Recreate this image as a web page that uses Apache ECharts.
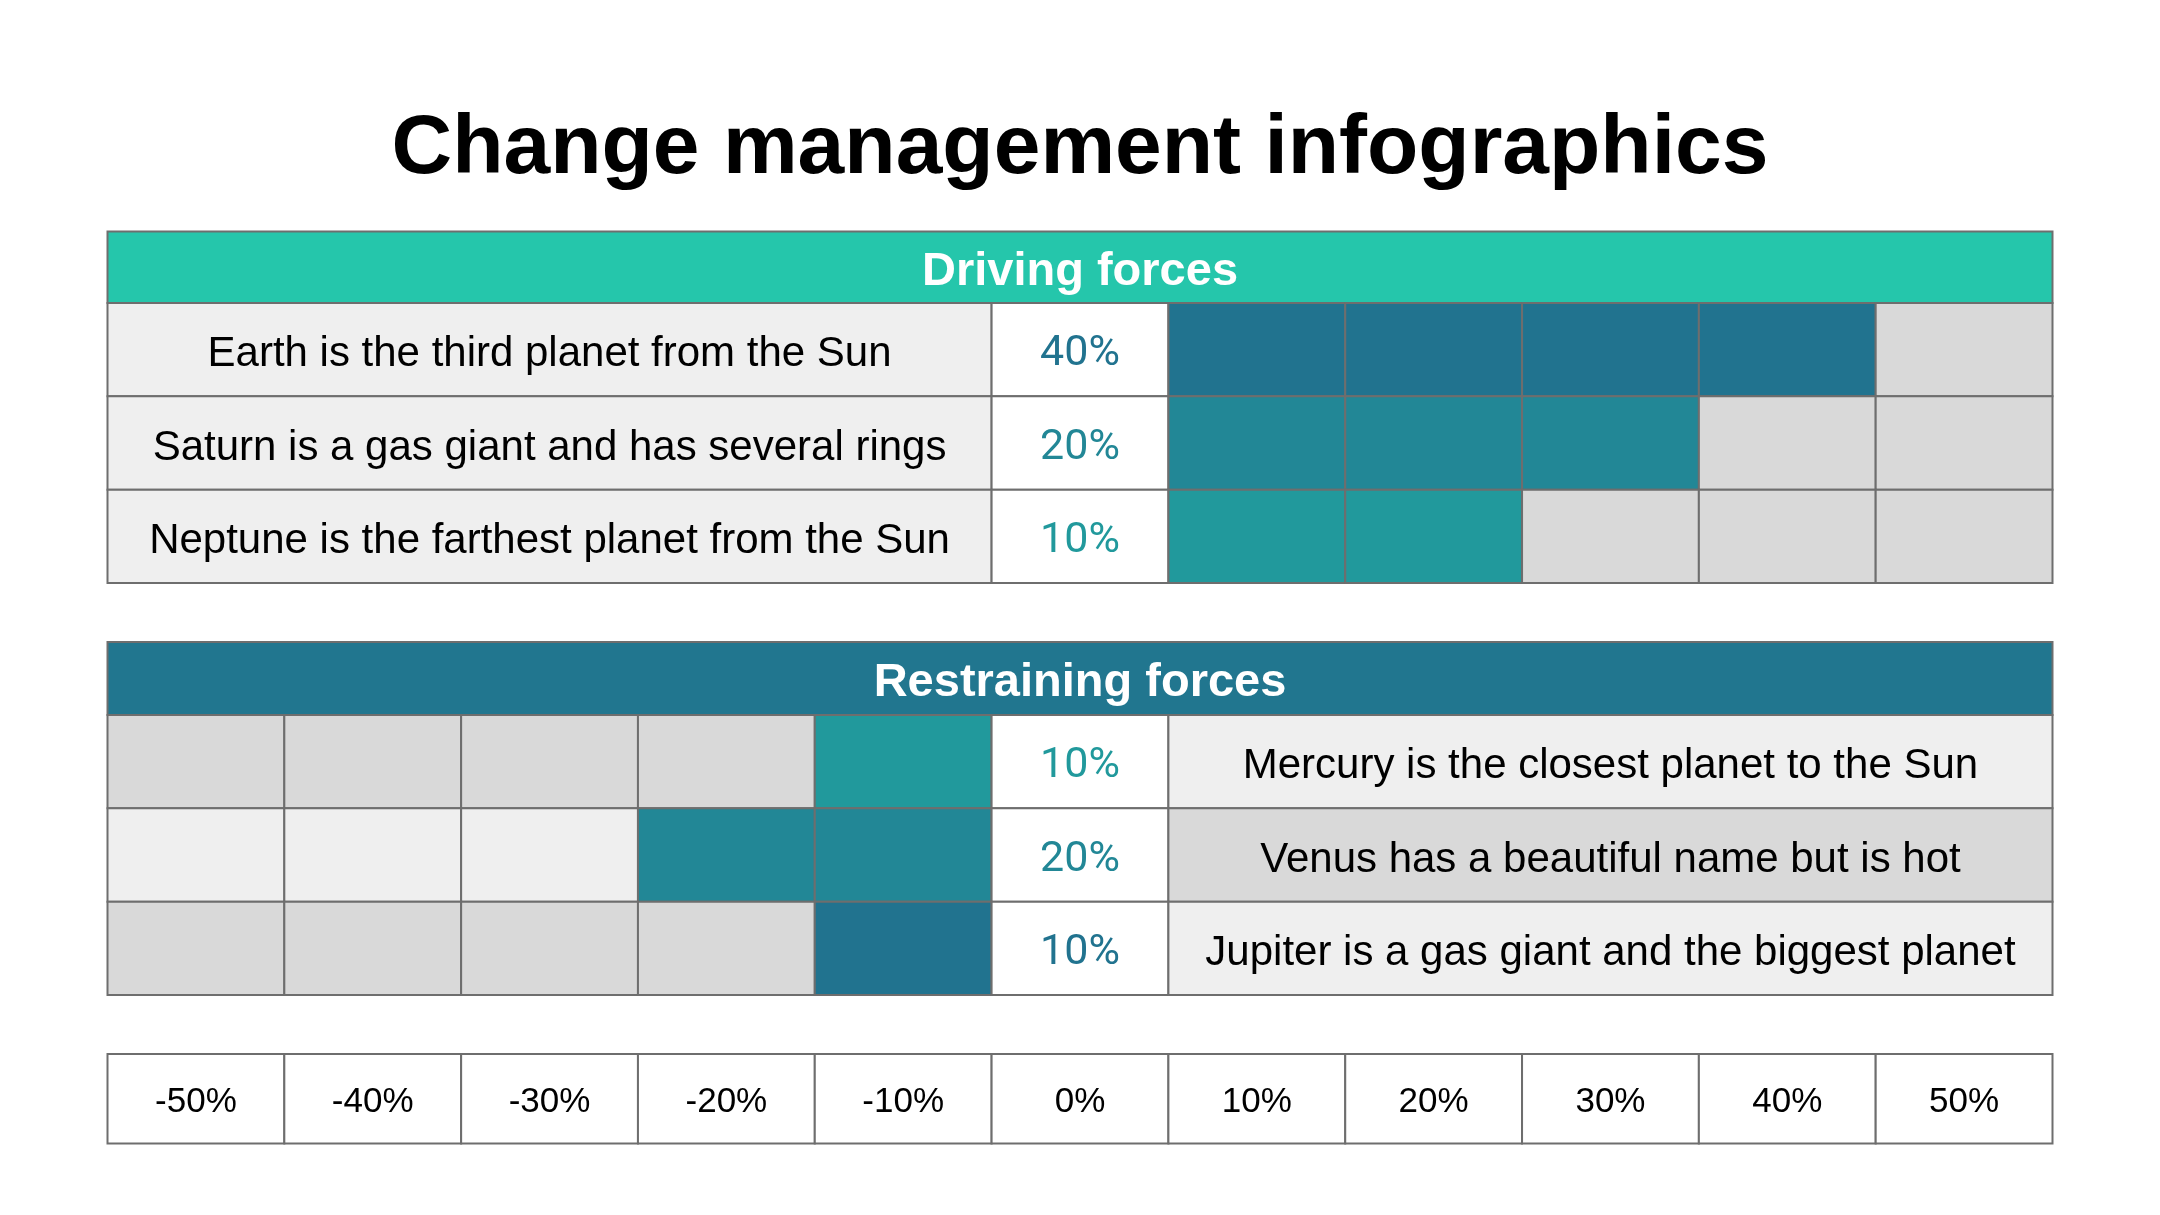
<!DOCTYPE html>
<html>
<head>
<meta charset="utf-8">
<script src="https://cdn.jsdelivr.net/npm/echarts@6/dist/echarts.min.js"></script>
<style>
  html, body { margin: 0; padding: 0; background: #ffffff; }
  #chart { width: 2160px; height: 1215px; }
</style>
</head>
<body>
<div id="chart"></div>
<script>
// ---------- data ----------
const titleText = 'Change management infographics';
const drivingHeader = 'Driving forces';
const restrainingHeader = 'Restraining forces';
const scaleValues = [-50, -40, -30, -20, -10, 0, 10, 20, 30, 40, 50];
const scaleTicks = ['-50%', '-40%', '-30%', '-20%', '-10%', '0%', '10%', '20%', '30%', '40%', '50%'];

const drivingLabels = [
  'Earth is the third planet from the Sun',
  'Saturn is a gas giant and has several rings',
  'Neptune is the farthest planet from the Sun'
];
const drivingValues = [40, 20, 10];        // printed percentages
const drivingShadedTo = [40, 30, 20];      // extent of shaded cells as drawn

const restrainingLabels = [
  'Mercury is the closest planet to the Sun',
  'Venus has a beautiful name but is hot',
  'Jupiter is a gas giant and the biggest planet'
];
const restrainingValues = [10, 20, 10];
const restrainingShadedTo = [-10, -20, -10];

// ---------- styles ----------
const BORDER = '#6e6e6e';
const GRAY = '#d9d9d9';
const LIGHT = '#efefef';
const WHITE = '#ffffff';
const DARK = '#21738f', MID = '#228796', LITE = '#21999c';
const drivingColors = [DARK, MID, LITE];
const restrainingColors = [LITE, MID, DARK];
const SANS = '"Liberation Sans", Arial, sans-serif';
const ROBOTO = 'Roboto, sans-serif';
const HALF = 5; // half column width in axis units

// ---------- cells ----------
function labelCell(x0, x1, row, text, fill) {
  return { value: [x0, x1, row], text: text, fill: fill, color: '#000000', size: 42, family: SANS, weight: 'normal', dy: 5 };
}
const drivingCells = [];
drivingLabels.forEach(function (lab, i) {
  drivingCells.push(labelCell(-55, -5, i, lab, LIGHT));
  drivingCells.push({ value: [-HALF, HALF, i], text: drivingValues[i] + '%', fill: WHITE, color: drivingColors[i], size: 43, family: ROBOTO, weight: 'normal', dy: 5 });
  scaleValues.filter(function (v) { return v > 0; }).forEach(function (v) {
    drivingCells.push({ value: [v - HALF, v + HALF, i], fill: v <= drivingShadedTo[i] ? drivingColors[i] : GRAY });
  });
});

const restrainingCells = [];
restrainingLabels.forEach(function (lab, i) {
  const swap = (i === 1);
  scaleValues.filter(function (v) { return v < 0; }).forEach(function (v) {
    restrainingCells.push({ value: [v - HALF, v + HALF, i], fill: v >= restrainingShadedTo[i] ? restrainingColors[i] : (swap ? LIGHT : GRAY) });
  });
  restrainingCells.push({ value: [-HALF, HALF, i], text: restrainingValues[i] + '%', fill: WHITE, color: restrainingColors[i], size: 43, family: ROBOTO, weight: 'normal', dy: 5 });
  restrainingCells.push(labelCell(5, 55, i, lab, swap ? GRAY : LIGHT));
});

const drivingHeadCells = [{ value: [-55, 55, 0], text: drivingHeader, fill: '#25c6ab', color: '#ffffff', size: 47, family: SANS, weight: 'bold', dy: 5 }];
const restrainingHeadCells = [{ value: [-55, 55, 0], text: restrainingHeader, fill: '#21768f', color: '#ffffff', size: 47, family: SANS, weight: 'bold', dy: 5 }];
const scaleCells = scaleValues.map(function (v, k) {
  return { value: [v - HALF, v + HALF, 0], text: scaleTicks[k], fill: WHITE, color: '#000000', size: 35, family: SANS, weight: 'normal', dy: 4 };
});

function makeRender(cells) {
  return function (params, api) {
    const c = cells[params.dataIndex];
    const a = api.coord([api.value(0), api.value(2)]);
    const b = api.coord([api.value(1), api.value(2)]);
    const h = api.size([0, 1])[1];
    const el = {
      type: 'rect',
      shape: { x: a[0], y: a[1] - h / 2, width: b[0] - a[0], height: h },
      style: { fill: c.fill, stroke: BORDER, lineWidth: 2 }
    };
    if (c.text) {
      el.textContent = {
        style: { text: c.text, fill: c.color, fontSize: c.size, fontFamily: c.family, fontWeight: c.weight }
      };
      el.textConfig = { position: 'inside', offset: [0, c.dy || 0] };
    }
    return el;
  };
}

// ---------- layout ----------
const L = 107.5, R = 107.5;
const grids = [
  { top: 231.5, height: 71.5 },   // driving header
  { top: 303, height: 280 },      // driving rows
  { top: 642, height: 73 },       // restraining header
  { top: 715, height: 280 },      // restraining rows
  { top: 1054, height: 89.5 }     // scale
].map(function (g) { return { left: L, right: R, top: g.top, height: g.height, containLabel: false }; });

const yData = [[drivingHeader], drivingLabels, [restrainingHeader], restrainingLabels, ['scale']];
const cellSets = [drivingHeadCells, drivingCells, restrainingHeadCells, restrainingCells, scaleCells];

const option = {
  animation: false,
  backgroundColor: '#ffffff',
  title: {
    text: titleText,
    left: 'center',
    top: 103,
    textStyle: { fontSize: 84, fontWeight: 'bold', fontFamily: SANS, color: '#000000' }
  },
  grid: grids,
  xAxis: grids.map(function (g, k) {
    return { type: 'value', gridIndex: k, min: -55, max: 55, interval: 5, show: false };
  }),
  yAxis: grids.map(function (g, k) {
    return { type: 'category', gridIndex: k, data: yData[k], inverse: true, show: false };
  }),
  series: cellSets.map(function (cells, k) {
    return {
      type: 'custom',
      xAxisIndex: k,
      yAxisIndex: k,
      clip: false,
      silent: true,
      renderItem: makeRender(cells),
      data: cells.map(function (c) { return c.value; })
    };
  })
};

const chart = echarts.init(document.getElementById('chart'), null, { renderer: 'canvas' });
chart.setOption(option);
</script>
</body>
</html>
